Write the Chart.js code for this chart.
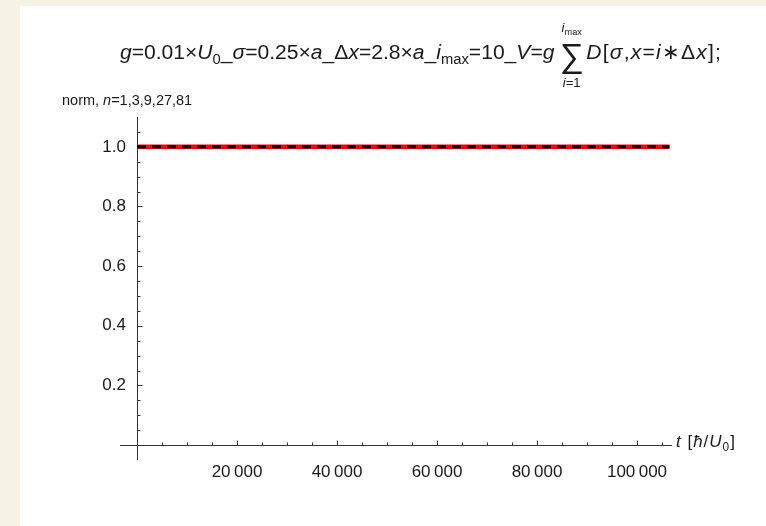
<!DOCTYPE html>
<html>
<head>
<meta charset="utf-8">
<script src="https://cdn.jsdelivr.net/npm/chart.js@4.4.0/dist/chart.umd.min.js"></script>
<style>
  html, body { margin: 0; padding: 0; background: #f6f3e4; }
  #wrap { position: absolute; left: 20px; top: 6px; width: 746px; height: 520px; background: #ffffff; }
</style>
</head>
<body>
<div id="wrap"><canvas id="normChart" width="746" height="520"></canvas></div>
<script>
/* --------------- Data --------------------- */
const tValues = [0, 10000, 20000, 30000, 40000, 50000, 60000, 70000, 80000, 90000, 100000, 106500];
const normN1 = [1, 1, 1, 1, 1, 1, 1, 1, 1, 1, 1, 1];
const normN81 = [1, 1, 1, 1, 1, 1, 1, 1, 1, 1, 1, 1];
const xTicks = [20000, 40000, 60000, 80000, 100000];
const yTicks = [0.2, 0.4, 0.6, 0.8, 1.0];

/* --------------- Text pieces: [text, italic, subscript] --------------------- */
const titleLeft = [
  ["g", 1], ["=0.01×"], ["U", 1], ["0", 0, 1], ["_"], ["σ", 1], ["=0.25×"], ["a", 1],
  ["_Δ"], ["x", 1], ["=2.8×"], ["a", 1], ["_"], ["i", 1], ["max", 0, 1], ["=10_"],
  ["V", 1], ["="], ["g", 1]
];
const titleRight = [
  ["D", 1], ["["], ["σ", 1], [","], ["x", 1], ["="], ["i", 1], ["∗"], ["Δ"], ["x", 1], ["];"]
];
const sumTop = [["i", 1], ["max", 0, 1]];
const sumBottom = [["i", 1], ["=1"]];
const yLabel = [["norm, "], ["n", 1], ["=1,3,9,27,81"]];
const xLabel = [["t", 1], [" ["], ["ħ", 1], ["/"], ["U", 1], ["0", 0, 1], ["]"]];

const FONT = "'Liberation Sans', Arial, sans-serif";
const AXIS_COLOR = "#333333";
const TEXT_COLOR = "#1a1a1a";
const X_AXIS_FROM = -3400;

function setFont(ctx, p, size) {
  const s = p[2] ? size * 0.7 : size;
  ctx.font = (p[1] ? "italic " : "") + s + "px " + FONT;
}

function richWidth(ctx, parts, size, extra = 0) {
  let w = 0;
  for (const p of parts) {
    setFont(ctx, p, size);
    for (const ch of p[0]) w += ctx.measureText(ch).width + extra;
  }
  return w - extra;
}

// draws glyph by glyph, with optional extra spacing between glyphs
function drawRich(ctx, parts, x, y, size, extra = 0) {
  for (const p of parts) {
    setFont(ctx, p, size);
    for (const ch of p[0]) {
      ctx.fillText(ch, x, p[2] ? y + size * 0.25 : y);
      x += ctx.measureText(ch).width + extra;
    }
  }
  return x;
}

function groupDigits(v) {
  return String(v).replace(/\B(?=(\d{3})+(?!\d))/g, "\u2009");
}

/* --------------- Mathematica style axes + labels --------------------- */
const mmaAxes = {
  id: "mmaAxes",
  beforeDraw(chart) {
    const ctx = chart.ctx;
    ctx.save();
    ctx.fillStyle = "#ffffff";
    ctx.fillRect(0, 0, chart.width, chart.height);
    ctx.restore();
  },
  beforeDatasetsDraw(chart) {
    const { ctx, scales: { x, y } } = chart;
    const x0 = Math.round(x.getPixelForValue(0)) + 0.5;
    const y0 = Math.round(y.getPixelForValue(0)) + 0.5;
    ctx.save();
    ctx.strokeStyle = AXIS_COLOR;
    ctx.lineWidth = 1;
    ctx.beginPath();
    ctx.moveTo(x.getPixelForValue(X_AXIS_FROM), y0);
    ctx.lineTo(x.right, y0);
    ctx.moveTo(x0, y.top);
    ctx.lineTo(x0, y.bottom);
    // x ticks, pointing up
    for (let v = 5000; v <= 105000; v += 5000) {
      const px = Math.round(x.getPixelForValue(v)) + 0.5;
      const len = v % 20000 === 0 ? 5 : 3;
      ctx.moveTo(px, y0);
      ctx.lineTo(px, y0 - len);
    }
    // y ticks, pointing right
    for (let i = 1; i <= 21; i++) {
      const py = Math.round(y.getPixelForValue(i * 0.05)) + 0.5;
      const len = i % 4 === 0 ? 5 : 3;
      ctx.moveTo(x0, py);
      ctx.lineTo(x0 + len, py);
    }
    ctx.stroke();
    ctx.restore();
  },
  afterDraw(chart) {
    const ctx = chart.ctx;
    ctx.save();
    ctx.fillStyle = TEXT_COLOR;
    ctx.textBaseline = "alphabetic";
    ctx.textAlign = "left";

    // title, fitted to 602px overall
    const sumScale = 1.6, gap = 0.25, rExtra = 1.2;
    const measure = (s) => {
      ctx.font = (s * sumScale) + "px " + FONT;
      const w = ctx.measureText("∑").width;
      return richWidth(ctx, titleLeft, s) + gap * s + w + 0.12 * s + richWidth(ctx, titleRight, s, rExtra);
    };
    const size = 20 * 602 / measure(20);
    const baseY = 53;
    let cx = drawRich(ctx, titleLeft, 100, baseY, size);
    cx += gap * size;
    ctx.font = (size * sumScale) + "px " + FONT;
    const wSig = ctx.measureText("∑").width;
    ctx.fillText("∑", cx, baseY + size * 0.38);
    const mid = cx + wSig / 2;
    const lim = size * 0.62;
    drawRich(ctx, sumTop, mid - richWidth(ctx, sumTop, lim) / 2, baseY - size * 1.3, lim);
    drawRich(ctx, sumBottom, mid - richWidth(ctx, sumBottom, lim) / 2, baseY + size * 1.35, lim);
    cx += wSig + 0.12 * size;
    drawRich(ctx, titleRight, cx, baseY, size, rExtra);

    // axis labels
    drawRich(ctx, yLabel, 42, 99, 14.5);
    drawRich(ctx, xLabel, 656, 441, 17, 1);
    ctx.restore();
  }
};

/* --------------- Chart --------------------- */
const normChart = new Chart(document.getElementById("normChart"), {
  type: "line",
  data: {
    datasets: [
      {
        label: "n=81",
        data: tValues.map((t, i) => ({ x: t, y: normN81[i] })),
        borderColor: "#000000",
        borderWidth: 3,
        borderDash: [9, 6],
        pointRadius: 0,
        fill: false,
      },
      {
        label: "n=1",
        data: tValues.map((t, i) => ({ x: t, y: normN1[i] })),
        borderColor: "#ff0000",
        borderWidth: 4.5,
        pointRadius: 0,
        fill: false,
      },
    ],
  },
  options: {
    responsive: false,
    animation: false,
    layout: { padding: { left: 0, right: 94, top: 111, bottom: 26 } },
    plugins: {
      legend: { display: false },
      tooltip: { enabled: false },
    },
    scales: {
      x: {
        type: "linear",
        min: 0,
        max: 107000,
        grid: { display: false, drawTicks: false },
        border: { display: false },
        afterBuildTicks: (s) => { s.ticks = xTicks.map((v) => ({ value: v })); },
        afterFit: (s) => { s.height = 40; },
        ticks: {
          padding: 2,
          color: TEXT_COLOR,
          font: { family: FONT, size: 17 },
          maxRotation: 0,
          autoSkip: false,
          callback: (v) => groupDigits(v),
        },
      },
      y: {
        type: "linear",
        min: -0.05,
        max: 1.1,
        grid: { display: false, drawTicks: false },
        border: { display: false },
        afterBuildTicks: (s) => { s.ticks = yTicks.map((v) => ({ value: v })); },
        afterFit: (s) => { s.width = 117; },
        ticks: {
          padding: 11,
          color: TEXT_COLOR,
          font: { family: FONT, size: 17 },
          callback: (v) => v.toFixed(1),
        },
      },
    },
  },
  plugins: [mmaAxes],
});
</script>
</body>
</html>
